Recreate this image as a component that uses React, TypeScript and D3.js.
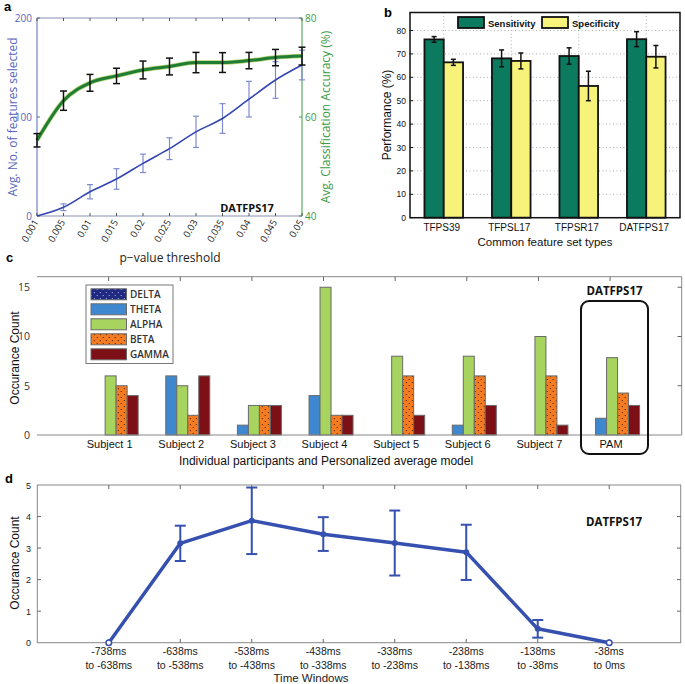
import React, { useEffect, useRef } from 'react';
import * as d3 from 'd3';

// panel a
const thresholds = ['0.001', '0.005', '0.01', '0.015', '0.02', '0.025', '0.03', '0.035', '0.04', '0.045', '0.05'];
const featureMean = [0, 8.8, 24.5, 37.4, 53.2, 68, 85, 98.5, 118, 137.4, 152.5];
const featureErr = [0, 3.4, 7.2, 10.4, 9.3, 11, 15.8, 15, 18, 18.5, 15];
const accMean = [55.3, 63.3, 66.9, 68.3, 69.5, 70.2, 71.0, 71.0, 71.4, 72.0, 72.3];
const accErr = [1.35, 1.95, 1.7, 1.55, 1.8, 1.7, 2.05, 2.0, 1.65, 1.65, 1.8];

// panel b
const featureSets = ['TFPS39', 'TFPSL17', 'TFPSR17', 'DATFPS17'];
const sensitivity = [76.2, 68.1, 69.1, 76.3];
const sensitivityErr = [1.2, 3.6, 3.5, 3.2];
const specificity = [66.4, 67.0, 56.3, 68.8];
const specificityErr = [1.3, 3.4, 6.3, 4.8];

// panel c
const subjects = ['Subject 1', 'Subject 2', 'Subject 3', 'Subject 4', 'Subject 5', 'Subject 6', 'Subject 7', 'PAM'];
const bands = ['DELTA', 'THETA', 'ALPHA', 'BETA', 'GAMMA'];
const delta = [0, 0, 0, 0, 0, 0, 0, 0];
const theta = [0, 6, 1, 4, 0, 1, 0, 1.7];
const alpha = [6, 5, 3, 15, 8, 8, 10, 7.85];
const beta = [5, 2, 3, 2, 6, 6, 6, 4.26];
const gamma = [4, 6, 3, 2, 2, 3, 1, 3.0];

// panel d
const windowsTop = ['-738ms', '-638ms', '-538ms', '-438ms', '-338ms', '-238ms', '-138ms', '-38ms'];
const windowsBottom = ['to -638ms', 'to -538ms', 'to -438ms', 'to -338ms', 'to -238ms', 'to -138ms', 'to -38ms', 'to 0ms'];
const occMean = [0, 3.15, 3.87, 3.44, 3.16, 2.87, 0.44, 0];
const occLow = [0, 2.59, 2.81, 2.91, 2.13, 1.99, 0.16, 0];
const occHigh = [0, 3.71, 4.92, 3.98, 4.19, 3.74, 0.72, 0];

const ARIAL = 'Liberation Sans, Arial, sans-serif';
const MYRIAD = 'Open Sans, Lato, sans-serif';

export default function App() {
  const ref = useRef<SVGSVGElement>(null);

  useEffect(() => {
    if (!ref.current) return;
    const svg = d3.select(ref.current);
    svg.selectAll('*').remove();

    const defs = svg.append('defs');
    const dotPat = (id: string, bg: string, fg: string) => {
      const p = defs.append('pattern').attr('id', id).attr('width', 6).attr('height', 6)
        .attr('patternUnits', 'userSpaceOnUse');
      p.append('rect').attr('width', 6).attr('height', 6).attr('fill', bg);
      p.append('circle').attr('cx', 1.2).attr('cy', 1.5).attr('r', 0.6).attr('fill', fg);
      p.append('circle').attr('cx', 4.3).attr('cy', 4.6).attr('r', 0.55).attr('fill', fg);
    };
    dotPat('pDelta', '#1f2a80', '#b8c2ff');
    dotPat('pBeta', '#f47b20', '#2a1200');

    const panelLabel = (t: string, x: number, y: number) =>
      svg.append('text').attr('x', x).attr('y', y).text(t)
        .attr('font-family', ARIAL).attr('font-weight', 'bold').attr('font-size', 13);

    // ---------------- panel a ----------------
    {
      const blue = '#5767bd';
      const green = '#3d9a45';
      const x = d3.scalePoint().domain(thresholds).range([37, 302]);
      const yL = d3.scaleLinear().domain([0, 200]).range([216, 18]);
      const yR = d3.scaleLinear().domain([40, 80]).range([216, 18]);
      const g = svg.append('g');

      g.append('line').attr('x1', 37).attr('x2', 302).attr('y1', 18).attr('y2', 18).attr('stroke', '#8890b0');
      g.append('line').attr('x1', 37).attr('x2', 302).attr('y1', 216).attr('y2', 216).attr('stroke', '#8890b0');
      g.append('line').attr('x1', 37).attr('x2', 37).attr('y1', 18).attr('y2', 216).attr('stroke', blue);
      g.append('line').attr('x1', 302).attr('x2', 302).attr('y1', 18).attr('y2', 216).attr('stroke', green);

      thresholds.forEach(t => {
        const xx = x(t)!;
        g.append('line').attr('x1', xx).attr('x2', xx).attr('y1', 18).attr('y2', 21).attr('stroke', '#555');
        g.append('line').attr('x1', xx).attr('x2', xx).attr('y1', 216).attr('y2', 213).attr('stroke', '#555');
        g.append('text').attr('transform', `translate(${xx + 2},${222}) rotate(-60)`)
          .attr('text-anchor', 'end').attr('font-family', MYRIAD).attr('font-size', 9.5).attr('fill', '#222').text(t);
      });
      [0, 100, 200].forEach(v => {
        g.append('line').attr('x1', 37).attr('x2', 40).attr('y1', yL(v)).attr('y2', yL(v)).attr('stroke', blue);
        g.append('text').attr('x', 32).attr('y', yL(v) + 4).attr('text-anchor', 'end')
          .attr('font-family', MYRIAD).attr('font-size', 10).attr('fill', blue).text(v);
      });
      [40, 60, 80].forEach(v => {
        g.append('line').attr('x1', 302).attr('x2', 299).attr('y1', yR(v)).attr('y2', yR(v)).attr('stroke', green);
        g.append('text').attr('x', 305).attr('y', yR(v) + 4).attr('text-anchor', 'start')
          .attr('font-family', MYRIAD).attr('font-size', 10).attr('fill', green).text(v);
      });
      g.append('text').attr('transform', 'translate(17,117) rotate(-90)').attr('text-anchor', 'middle')
        .attr('font-family', MYRIAD).attr('font-size', 12).attr('fill', blue).text('Avg. No. of features selected');
      g.append('text').attr('transform', 'translate(330,117) rotate(-90)').attr('text-anchor', 'middle')
        .attr('font-family', MYRIAD).attr('font-size', 12).attr('fill', green).text('Avg. Classification Accuracy (%)');
      g.append('text').attr('x', 170).attr('y', 262).attr('text-anchor', 'middle')
        .attr('font-family', MYRIAD).attr('font-size', 12).attr('fill', '#222').text('p\u2212value threshold');

      // features line
      featureMean.forEach((m, i) => {
        if (featureErr[i] === 0) return;
        const xx = x(thresholds[i])!;
        const e = g.append('g').attr('stroke', '#7d8ad0').attr('stroke-width', 1.2);
        e.append('line').attr('x1', xx).attr('x2', xx).attr('y1', yL(m - featureErr[i])).attr('y2', yL(Math.min(200, m + featureErr[i])));
        e.append('line').attr('x1', xx - 3).attr('x2', xx + 3).attr('y1', yL(m - featureErr[i])).attr('y2', yL(m - featureErr[i]));
        if (m + featureErr[i] <= 200) e.append('line').attr('x1', xx - 3).attr('x2', xx + 3).attr('y1', yL(m + featureErr[i])).attr('y2', yL(m + featureErr[i]));
      });
      const lineL = d3.line<number>().x((_, i) => x(thresholds[i])!).y(d => yL(d)).curve(d3.curveMonotoneX);
      g.append('path').attr('d', lineL(featureMean)).attr('fill', 'none').attr('stroke', '#3345b0').attr('stroke-width', 1.6);

      // accuracy line
      const lineR = d3.line<number>().x((_, i) => x(thresholds[i])!).y(d => yR(d)).curve(d3.curveMonotoneX);
      g.append('path').attr('d', lineR(accMean)).attr('fill', 'none').attr('stroke', '#b9d47a').attr('stroke-width', 4.5);
      g.append('path').attr('d', lineR(accMean)).attr('fill', 'none').attr('stroke', '#1f7d34').attr('stroke-width', 3);
      accMean.forEach((m, i) => {
        const xx = x(thresholds[i])!;
        const e = g.append('g').attr('stroke', '#111').attr('stroke-width', 1.5);
        e.append('line').attr('x1', xx).attr('x2', xx).attr('y1', yR(m - accErr[i])).attr('y2', yR(m + accErr[i]));
        e.append('line').attr('x1', xx - 3.5).attr('x2', xx + 3.5).attr('y1', yR(m - accErr[i])).attr('y2', yR(m - accErr[i]));
        e.append('line').attr('x1', xx - 3.5).attr('x2', xx + 3.5).attr('y1', yR(m + accErr[i])).attr('y2', yR(m + accErr[i]));
      });
      g.append('text').attr('x', 247).attr('y', 212).attr('text-anchor', 'middle')
        .attr('font-family', MYRIAD).attr('font-weight', 'bold').attr('font-size', 11).attr('fill', '#111').text('DATFPS17');
      panelLabel('a', 4, 11);
    }

    // ---------------- panel b ----------------
    {
      const x0 = d3.scaleBand().domain(featureSets).range([410, 680]);
      const y = d3.scaleLinear().domain([0, 87.7]).range([217.7, 12.5]);
      const g = svg.append('g');
      const grid = g.append('g').attr('stroke', '#999').attr('stroke-width', 0.8).attr('stroke-dasharray', '1,2.5');
      d3.range(10, 90, 10).forEach(v => {
        grid.append('line').attr('x1', 410).attr('x2', 680).attr('y1', y(v)).attr('y2', y(v));
      });
      featureSets.forEach(f => {
        const c = x0(f)! + x0.bandwidth() / 2;
        grid.append('line').attr('x1', c).attr('x2', c).attr('y1', 12.5).attr('y2', 217.7);
      });
      const bw = 19.3;
      featureSets.forEach((f, i) => {
        const c = x0(f)! + x0.bandwidth() / 2;
        const bars = [
          { v: sensitivity[i], e: sensitivityErr[i], fill: '#0b7a5e', x: c - bw },
          { v: specificity[i], e: specificityErr[i], fill: '#f7f27a', x: c }
        ];
        bars.forEach(b => {
          g.append('rect').attr('x', b.x).attr('y', y(b.v)).attr('width', bw).attr('height', y(0) - y(b.v))
            .attr('fill', b.fill).attr('stroke', '#111').attr('stroke-width', 1.8);
        });
        bars.forEach(b => {
          const xx = b.x + bw / 2;
          const e = g.append('g').attr('stroke', '#111').attr('stroke-width', 1.5);
          e.append('line').attr('x1', xx).attr('x2', xx).attr('y1', y(b.v - b.e)).attr('y2', y(b.v + b.e));
          e.append('line').attr('x1', xx - 2.5).attr('x2', xx + 2.5).attr('y1', y(b.v - b.e)).attr('y2', y(b.v - b.e));
          e.append('line').attr('x1', xx - 2.5).attr('x2', xx + 2.5).attr('y1', y(b.v + b.e)).attr('y2', y(b.v + b.e));
        });
        g.append('text').attr('x', c - 2).attr('y', 231).attr('text-anchor', 'middle')
          .attr('font-family', ARIAL).attr('font-size', 10).attr('fill', '#111').text(f);
      });
      g.append('rect').attr('x', 410).attr('y', 12.5).attr('width', 270).attr('height', 205.2)
        .attr('fill', 'none').attr('stroke', '#111').attr('stroke-width', 1.5);
      d3.range(0, 90, 10).forEach(v => {
        g.append('line').attr('x1', 410).attr('x2', 413).attr('y1', y(v)).attr('y2', y(v)).attr('stroke', '#111');
        g.append('text').attr('x', 406).attr('y', y(v) + 3).attr('text-anchor', 'end')
          .attr('font-family', ARIAL).attr('font-size', 8.5).attr('fill', '#111').text(v);
      });
      g.append('text').attr('transform', 'translate(391,115) rotate(-90)').attr('text-anchor', 'middle')
        .attr('font-family', ARIAL).attr('font-size', 12).attr('fill', '#111').text('Performance (%)');
      g.append('text').attr('x', 545).attr('y', 246).attr('text-anchor', 'middle')
        .attr('font-family', ARIAL).attr('font-size', 11.5).attr('fill', '#111').text('Common feature set types');
      // legend
      const leg = [
        { t: 'Sensitivity', fill: '#0b7a5e', x: 458 },
        { t: 'Specificity', fill: '#f7f27a', x: 542 }
      ];
      leg.forEach(l => {
        g.append('rect').attr('x', l.x).attr('y', 17).attr('width', 26).attr('height', 11)
          .attr('fill', l.fill).attr('stroke', '#111').attr('stroke-width', 1.8);
        g.append('text').attr('x', l.x + 30).attr('y', 26.5).attr('font-family', ARIAL).attr('font-weight', 'bold')
          .attr('font-size', 9.5).attr('fill', '#111').text(l.t);
      });
      panelLabel('b', 384, 17);
    }

    // ---------------- panel c ----------------
    {
      const x = d3.scaleLinear().domain([0, 9]).range([37, 681.7]);
      const y = d3.scaleLinear().domain([0, 16.07]).range([435, 276.7]);
      const g = svg.append('g');
      const series = [delta, theta, alpha, beta, gamma];
      const fills = ['url(#pDelta)', '#3f88d0', '#a6d45e', 'url(#pBeta)', '#7d1016'];
      const bw = 11;
      subjects.forEach((s, i) => {
        const c = x(i + 1);
        series.forEach((ser, k) => {
          const v = ser[i];
          if (v <= 0) return;
          g.append('rect').attr('x', c - 2.5 * bw + k * bw + 2).attr('y', y(v)).attr('width', bw).attr('height', y(0) - y(v))
            .attr('fill', fills[k]).attr('stroke', '#6a6a6a').attr('stroke-width', 1);
        });
        g.append('text').attr('x', c + 1).attr('y', 447.5).attr('text-anchor', 'middle')
          .attr('font-family', ARIAL).attr('font-size', 11).attr('fill', '#111').text(s);
        g.append('line').attr('x1', c).attr('x2', c).attr('y1', 276.7).attr('y2', 281).attr('stroke', '#666');
      });
      g.append('line').attr('x1', 37).attr('x2', 681.7).attr('y1', 276.7).attr('y2', 276.7).attr('stroke', '#888');
      g.append('line').attr('x1', 37).attr('x2', 681.7).attr('y1', 435).attr('y2', 435).attr('stroke', '#888');
      g.append('line').attr('x1', 681.7).attr('x2', 681.7).attr('y1', 276.7).attr('y2', 435).attr('stroke', '#888');
      [0, 5, 10, 15].forEach(v => {
        g.append('text').attr('x', 30).attr('y', y(v) + 4).attr('text-anchor', 'end')
          .attr('font-family', MYRIAD).attr('font-size', 10.5).attr('fill', '#333').text(v);
        if (v > 0) g.append('line').attr('x1', 681.7).attr('x2', 677.5).attr('y1', y(v)).attr('y2', y(v)).attr('stroke', '#666');
      });
      g.append('text').attr('transform', 'translate(19,358) rotate(-90)').attr('text-anchor', 'middle')
        .attr('font-family', ARIAL).attr('font-size', 12).attr('fill', '#111').text('Occurance Count');
      g.append('text').attr('x', 326).attr('y', 465).attr('text-anchor', 'middle')
        .attr('font-family', ARIAL).attr('font-size', 12).attr('fill', '#111').text('Individual participants and Personalized average model');
      // legend
      g.append('rect').attr('x', 86).attr('y', 285).attr('width', 87).attr('height', 78.5)
        .attr('fill', '#fff').attr('stroke', '#777').attr('stroke-width', 1);
      bands.forEach((b, k) => {
        const cy = 294.3 + k * 15;
        g.append('rect').attr('x', 91).attr('y', cy - 5.5).attr('width', 35.5).attr('height', 11)
          .attr('fill', fills[k]).attr('stroke', '#6a6a6a').attr('stroke-width', 1);
        g.append('text').attr('x', 130).attr('y', cy + 4).attr('font-family', MYRIAD).attr('font-weight', 600)
          .attr('font-size', 10).attr('fill', '#333').text(b);
      });
      g.append('rect').attr('x', 581).attr('y', 301).attr('width', 67).attr('height', 153).attr('rx', 8)
        .attr('fill', 'none').attr('stroke', '#111').attr('stroke-width', 2);
      g.append('text').attr('x', 614.5).attr('y', 294.5).attr('text-anchor', 'middle')
        .attr('font-family', MYRIAD).attr('font-weight', 'bold').attr('font-size', 11.5).attr('fill', '#111').text('DATFPS17');
      panelLabel('c', 6, 262);
    }

    // ---------------- panel d ----------------
    {
      const x = d3.scaleLinear().domain([0, 9]).range([37.3, 680.7]);
      const y = d3.scaleLinear().domain([0, 5]).range([642.7, 485]);
      const g = svg.append('g');
      const frame = '#888';
      g.append('rect').attr('x', 37.3).attr('y', 485).attr('width', 643.4).attr('height', 157.7)
        .attr('fill', 'none').attr('stroke', frame).attr('stroke-width', 1);
      d3.range(0, 6).forEach(v => {
        g.append('text').attr('x', 31).attr('y', y(v) + 3.5).attr('text-anchor', 'end')
          .attr('font-family', ARIAL).attr('font-size', 9).attr('fill', '#222').text(v);
        if (v > 0 && v < 5) {
          g.append('line').attr('x1', 37.3).attr('x2', 41).attr('y1', y(v)).attr('y2', y(v)).attr('stroke', '#666');
          g.append('line').attr('x1', 680.7).attr('x2', 677).attr('y1', y(v)).attr('y2', y(v)).attr('stroke', '#666');
        }
      });
      windowsTop.forEach((t, i) => {
        const xx = x(i + 1);
        g.append('line').attr('x1', xx).attr('x2', xx).attr('y1', 485).attr('y2', 489).attr('stroke', '#666');
        g.append('line').attr('x1', xx).attr('x2', xx).attr('y1', 642.7).attr('y2', 639).attr('stroke', '#666');
        g.append('text').attr('x', xx).attr('y', 655).attr('text-anchor', 'middle')
          .attr('font-family', ARIAL).attr('font-size', 10.5).attr('fill', '#222').text(t);
        g.append('text').attr('x', xx).attr('y', 668.5).attr('text-anchor', 'middle')
          .attr('font-family', ARIAL).attr('font-size', 10.5).attr('fill', '#222').text(windowsBottom[i]);
      });
      g.append('text').attr('x', 311).attr('y', 681.5).attr('text-anchor', 'middle')
        .attr('font-family', ARIAL).attr('font-size', 11.5).attr('fill', '#222').text('Time Windows');
      g.append('text').attr('transform', 'translate(19,563) rotate(-90)').attr('text-anchor', 'middle')
        .attr('font-family', ARIAL).attr('font-size', 12).attr('fill', '#111').text('Occurance Count');

      const col = '#3650b0';
      const line = d3.line<number>().x((_, i) => x(i + 1)).y(d => y(d));
      g.append('path').attr('d', line(occMean)).attr('fill', 'none').attr('stroke', col).attr('stroke-width', 3.5)
        .attr('stroke-linejoin', 'round');
      occMean.forEach((m, i) => {
        const xx = x(i + 1);
        if (occHigh[i] > occLow[i]) {
          const e = g.append('g').attr('stroke', col).attr('stroke-width', 2);
          e.append('line').attr('x1', xx).attr('x2', xx).attr('y1', y(occLow[i])).attr('y2', y(occHigh[i]));
          e.append('line').attr('x1', xx - 5.5).attr('x2', xx + 5.5).attr('y1', y(occLow[i])).attr('y2', y(occLow[i]));
          e.append('line').attr('x1', xx - 5.5).attr('x2', xx + 5.5).attr('y1', y(occHigh[i])).attr('y2', y(occHigh[i]));
          g.append('circle').attr('cx', xx).attr('cy', y(m)).attr('r', 3).attr('fill', col);
        } else {
          g.append('circle').attr('cx', xx).attr('cy', y(m)).attr('r', 2.8).attr('fill', '#fff')
            .attr('stroke', col).attr('stroke-width', 1.5);
        }
      });
      g.append('text').attr('x', 614).attr('y', 525.5).attr('text-anchor', 'middle')
        .attr('font-family', MYRIAD).attr('font-weight', 'bold').attr('font-size', 11.5).attr('fill', '#111').text('DATFPS17');
      panelLabel('d', 5, 483);
    }
  }, []);

  return (
    <svg ref={ref} width={685} height={684}
      style={{ position: 'absolute', left: 0, top: 0, background: '#fff' }} />
  );
}
